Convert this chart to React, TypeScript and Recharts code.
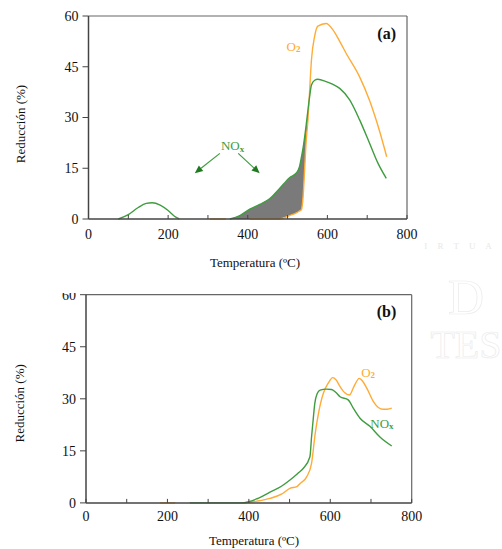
import React from 'react';
import {
  ComposedChart,
  Line,
  Area,
  XAxis,
  YAxis,
  ReferenceLine,
  ReferenceDot,
  Label,
} from 'recharts';

// ---- (a) temperatures (ºC) and reductions (%) ----
const tempNoxA = [75, 100, 125, 145, 160, 180, 200, 215, 228, 290, 355, 380, 405, 430, 455, 480, 505, 522, 530, 535, 539, 543, 547, 551, 555, 560, 568, 576, 597, 614, 631, 656, 681, 706, 727, 748];
const noxA = [0, 1.3, 3.4, 4.6, 4.8, 4.1, 2.5, 0.9, 0, null, 0, 1.0, 2.9, 4.3, 6.0, 9.0, 12.2, 13.6, 15.5, 18.4, 21, 24.3, 28, 32, 35.8, 39.6, 41, 41.3, 40.6, 39.8, 38.6, 35.2, 29.3, 22.4, 16.5, 12];

const tempO2A = [305, 345, 375, 405, 430, 455, 480, 505, 522, 530, 535, 539, 543, 547, 551, 555, 560, 568, 576, 597, 614, 631, 647, 681, 706, 731, 749];
const o2A = [0, 0, null, 0, 0, 0, 0, 1.0, 1.8, 2.4, 2.8, 6.6, 15, 23.5, 29, 37, 47, 54, 57, 57.8, 55.9, 52.5, 49, 42, 35, 26, 18.4];

// ---- (b) ----
const tempO2B = [182, 219, 300, 390, 420, 452, 480, 501, 518, 526, 542, 554, 563, 571, 583, 595, 606, 614, 624, 635, 647, 658, 671, 680, 690, 706, 718, 730, 740, 751];
const o2B = [0, 0, null, 0, 0.5, 1.3, 2.5, 4.2, 4.7, 5.6, 7.5, 11.4, 20, 25.8, 31.6, 34.5, 36.1, 35.5, 33.5, 31.8, 31.1, 33.5, 35.9, 35, 33, 29.2, 27.5, 27, 27, 27.3];

const tempNoxB = [255, 382, 420, 452, 480, 501, 520, 534, 550, 554, 558, 562, 568, 575, 590, 603, 614, 624, 644, 658, 673, 698, 722, 751];
const noxB = [0, 0, 1.2, 3.1, 4.8, 6.6, 8.5, 10, 13.3, 19, 24, 28.7, 31.5, 32.5, 32.8, 32.7, 31.8, 30.6, 29.7, 27, 24.4, 22, 19, 16.4];

// ---- axes ----
const xTicks = [0, 100, 200, 300, 400, 500, 600, 700, 800];
const yTicks = [0, 15, 30, 45, 60];
const shadeRange = [355, 551];

const SERIF = "'Liberation Serif', 'Times New Roman', serif";
const GREEN = '#3f9d3f';
const ORANGE = '#ffab36';
const AXIS = '#444';

type Row = { t: number; v: number | null };
const toRows = (ts: number[], vs: (number | null)[]): Row[] =>
  ts.map((t, i) => ({ t, v: vs[i] }));

const noxRowsA = toRows(tempNoxA, noxA);
const o2RowsA = toRows(tempO2A, o2A);
const noxRowsB = toRows(tempNoxB, noxB);
const o2RowsB = toRows(tempO2B, o2B);

// band between O2 (lower edge) and NOx (upper edge) where NOx leads
const shadeRowsA = tempNoxA
  .map((t, i) => {
    const nox = noxA[i];
    if (nox == null || t < shadeRange[0] || t > shadeRange[1]) return null;
    const j = tempO2A.indexOf(t);
    const o2 = j >= 0 && o2A[j] != null ? (o2A[j] as number) : 0;
    return { t, band: [o2, nox] };
  })
  .filter(Boolean) as { t: number; band: number[] }[];

const XTick = (props: any) => {
  const { x, y, payload, margin } = props;
  const base = y - margin;
  const v = payload.value;
  return (
    <g>
      <line x1={x} y1={base} x2={x} y2={base - 4} stroke={AXIS} strokeWidth={1} />
      {v % 200 === 0 && (
        <text x={x} y={y} dy="0.71em" textAnchor="middle" fill="#111" fontSize={14} fontFamily={SERIF}>
          {v}
        </text>
      )}
    </g>
  );
};

const Arrow = (props: any) => {
  const { x1, y1, x2, y2 } = props;
  const ang = Math.atan2(y2 - y1, x2 - x1);
  const L = 8;
  const W = 3.5;
  const bx = x2 - L * Math.cos(ang);
  const by = y2 - L * Math.sin(ang);
  const px = -Math.sin(ang) * W;
  const py = Math.cos(ang) * W;
  return (
    <g>
      <line x1={x1} y1={y1} x2={bx} y2={by} stroke={GREEN} strokeWidth={1.2} />
      <polygon points={`${x2},${y2} ${bx + px},${by + py} ${bx - px},${by - py}`} fill="#1f7a1f" />
    </g>
  );
};

const SubLabel = (main: string, sub: string, color: string) => (p: any) => {
  const vb = p.viewBox;
  const cx = vb.x + vb.width / 2;
  const cy = vb.y + vb.height / 2;
  return (
    <text x={cx} y={cy} textAnchor="middle" dominantBaseline="central" fill={color} fontSize={13} fontFamily={SERIF}>
      {main}
      <tspan fontSize={9} dy={3} fontWeight="bold">{sub}</tspan>
    </text>
  );
};

const YTitle = (dy: number) => (p: any) => {
  const vb = p.viewBox;
  const cy = vb.y + vb.height / 2 + dy;
  return (
    <text x={20} y={cy} transform={`rotate(-90 20 ${cy})`} textAnchor="middle" dominantBaseline="central" fill="#111" fontSize={13} fontFamily={SERIF}>
      Reducción (%)
    </text>
  );
};

const XTitle = (cx: number, cy: number) => () => (
  <text x={cx} y={cy} textAnchor="middle" dominantBaseline="central" fill="#111" fontSize={13} fontFamily={SERIF}>
    Temperatura (ºC)
  </text>
);

type PanelProps = {
  top: number;
  height: number;
  margin: { top: number; right: number; bottom: number; left: number };
  yWidth: number;
  tickMargin: number;
  yTitleDy: number;
  xTitle: [number, number];
  children: React.ReactNode;
};

const Panel = ({ top, height, margin, yWidth, tickMargin, yTitleDy, xTitle, children }: PanelProps) => (
  <div style={{ position: 'absolute', left: 0, top, width: 502, height }}>
    <ComposedChart width={502} height={height} margin={margin}>
      <XAxis
        type="number"
        dataKey="t"
        domain={[0, 800]}
        ticks={xTicks}
        interval={0}
        height={30}
        tickSize={0}
        tickLine={false}
        tickMargin={tickMargin}
        tick={<XTick margin={tickMargin} />}
        axisLine={{ stroke: AXIS, strokeWidth: 1.5 }}
      >
        <Label content={XTitle(xTitle[0], xTitle[1])} />
      </XAxis>
      <YAxis
        type="number"
        domain={[0, 60]}
        ticks={yTicks}
        interval={0}
        width={yWidth}
        tickSize={6}
        tickMargin={4}
        tick={{ fill: '#111', fontSize: 14, fontFamily: SERIF }}
        tickLine={{ stroke: AXIS }}
        axisLine={{ stroke: AXIS, strokeWidth: 1.5 }}
      >
        <Label content={YTitle(yTitleDy)} />
      </YAxis>
      <ReferenceLine y={60} stroke="#666" strokeWidth={1.2} />
      <ReferenceLine x={800} stroke="#666" strokeWidth={1.2} />
      {children}
    </ComposedChart>
  </div>
);

export default function App() {
  return (
    <div style={{ position: 'absolute', left: 0, top: 0, width: 502, height: 549, background: '#fff', overflow: 'hidden' }}>
      <Panel
        top={0}
        height={280}
        margin={{ top: 16, right: 95, bottom: 31, left: 0.5 }}
        yWidth={88}
        tickMargin={10}
        yTitleDy={6.5}
        xTitle={[255, 262]}
      >
        <Area
          data={shadeRowsA}
          dataKey="band"
          type="linear"
          stroke="none"
          fill="#7a7a7a"
          fillOpacity={1}
          isAnimationActive={false}
        />
        <Line data={o2RowsA} dataKey="v" type="monotone" stroke={ORANGE} strokeWidth={1.4} dot={false} isAnimationActive={false} />
        <Line data={noxRowsA} dataKey="v" type="monotone" stroke={GREEN} strokeWidth={1.4} dot={false} isAnimationActive={false} />
        <ReferenceLine segment={[{ x: 330, y: 19.4 }, { x: 267, y: 13.5 }]} shape={<Arrow />} />
        <ReferenceLine segment={[{ x: 376, y: 19.4 }, { x: 430, y: 13.5 }]} shape={<Arrow />} />
        <ReferenceDot x={362} y={21.6} r={0} fill="none" stroke="none">
          <Label content={SubLabel('NO', 'x', GREEN)} />
        </ReferenceDot>
        <ReferenceDot x={515} y={51.1} r={0} fill="none" stroke="none">
          <Label content={SubLabel('O', '2', ORANGE)} />
        </ReferenceDot>
        <ReferenceDot x={749} y={55} r={0} fill="none" stroke="none">
          <Label value="(a)" position="center" fill="#111" fontSize={16} fontWeight="bold" fontFamily={SERIF} />
        </ReferenceDot>
      </Panel>

      <Panel
        top={293}
        height={256}
        margin={{ top: 1.7, right: 90.3, bottom: 16.1, left: 0 }}
        yWidth={86}
        tickMargin={8}
        yTitleDy={4.5}
        xTitle={[254, 247]}
      >
        <Line data={o2RowsB} dataKey="v" type="monotone" stroke={ORANGE} strokeWidth={1.4} dot={false} isAnimationActive={false} />
        <Line data={noxRowsB} dataKey="v" type="monotone" stroke={GREEN} strokeWidth={1.4} dot={false} isAnimationActive={false} />
        <ReferenceDot x={693} y={37.6} r={0} fill="none" stroke="none">
          <Label content={SubLabel('O', '2', ORANGE)} />
        </ReferenceDot>
        <ReferenceDot x={727} y={23} r={0} fill="none" stroke="none">
          <Label content={SubLabel('NO', 'x', GREEN)} />
        </ReferenceDot>
        <ReferenceDot x={738} y={55.1} r={0} fill="none" stroke="none">
          <Label value="(b)" position="center" fill="#111" fontSize={16} fontWeight="bold" fontFamily={SERIF} />
        </ReferenceDot>
      </Panel>

      <svg width={502} height={549} style={{ position: 'absolute', left: 0, top: 0, pointerEvents: 'none' }}>
        <text x={460} y={249} textAnchor="middle" fill="#e8e8e8" fontSize={9} fontFamily={SERIF} letterSpacing={4}>
          I R T U A
        </text>
        <text x={466} y={314} textAnchor="middle" fill="none" stroke="#ebebeb" strokeWidth={0.7} fontSize={50} fontFamily={SERIF}>
          D
        </text>
        <text x={466} y={358} textAnchor="middle" fill="none" stroke="#ebebeb" strokeWidth={0.7} fontSize={40} fontFamily={SERIF}>
          TES
        </text>
      </svg>
    </div>
  );
}
